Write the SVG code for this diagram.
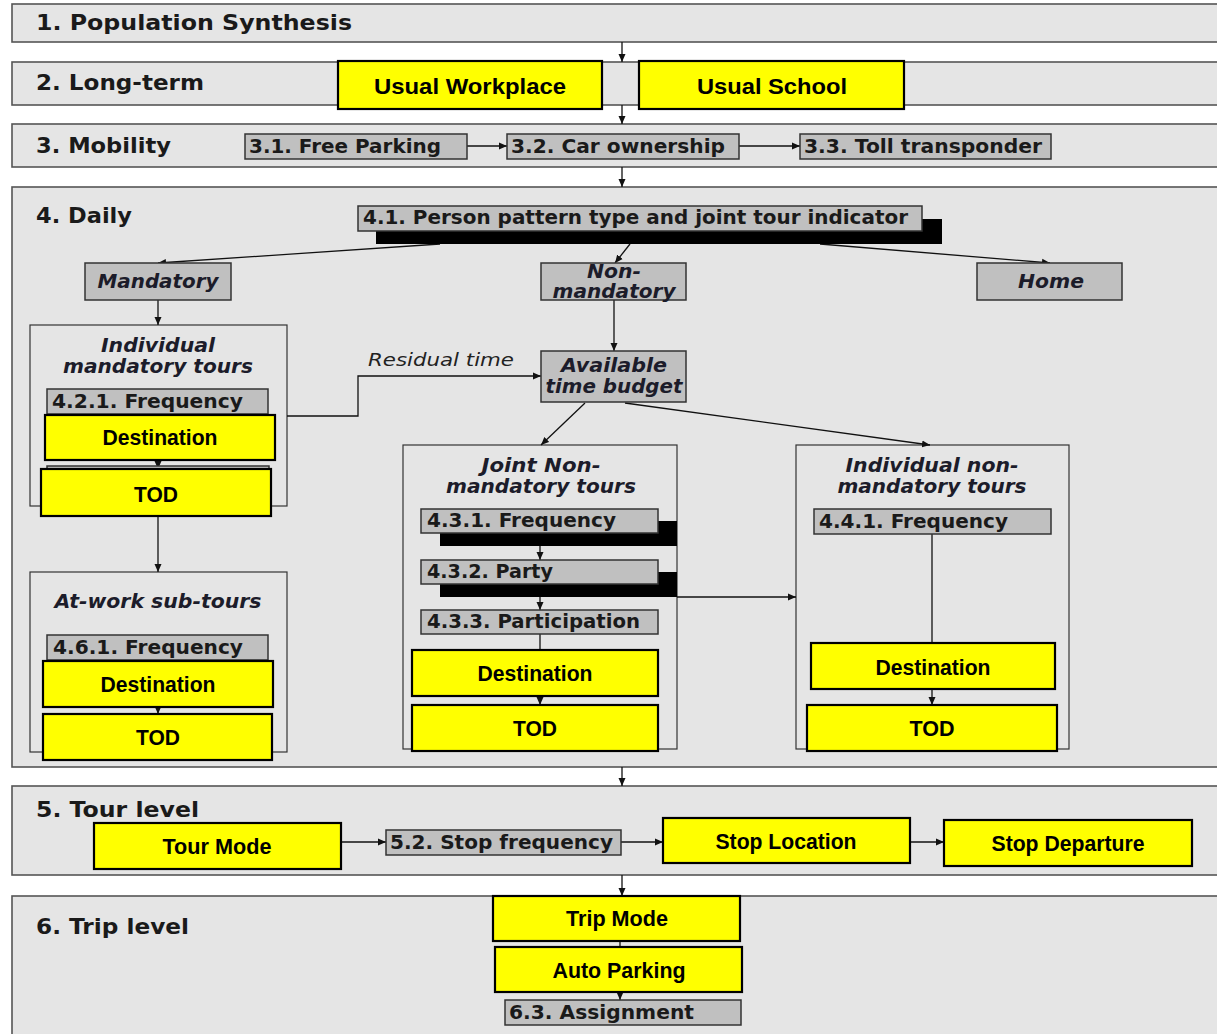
<svg xmlns="http://www.w3.org/2000/svg" width="1217" height="1034" viewBox="0 0 1217 1034">
<defs>
<marker id="ah" markerWidth="8" markerHeight="8" refX="8" refY="4" orient="auto" markerUnits="userSpaceOnUse">
<path d="M0,0.5 L8,4 L0,7.5 z" fill="#111"/>
</marker>
</defs>
<style>
.lane{fill:#e5e5e5;stroke:#555;stroke-width:1.6}
.cont{fill:#e5e5e5;stroke:#333;stroke-width:1.2}
.gray{fill:#c0c0c0;stroke:#333;stroke-width:1.5}
.blk{fill:#000}
.yel{fill:#ffff00;stroke:#000;stroke-width:2.2}
.lt{font-family:"DejaVu Sans",sans-serif;font-weight:bold;font-size:21px;fill:#1a1a1a}
.gt{font-family:"DejaVu Sans",sans-serif;font-weight:bold;font-size:19px;fill:#1a1a1a}
.it{font-family:"DejaVu Sans",sans-serif;font-weight:bold;font-style:italic;font-size:19px;fill:#1c1c2a;text-anchor:middle}
.rt{font-family:"DejaVu Sans",sans-serif;font-style:italic;font-size:18px;fill:#222}
.yt{font-family:"Liberation Sans",Arial,sans-serif;font-weight:bold;font-size:22px;fill:#000;text-anchor:middle}
.c{fill:none;stroke:#111;stroke-width:1.3}
</style>

<g id="lanes">
<g id="lane1"><rect class="lane" x="12" y="4" width="1215" height="38"/><text class="lt" x="36" y="30" textLength="316" lengthAdjust="spacingAndGlyphs">1. Population Synthesis</text></g>
<g id="lane2"><rect class="lane" x="12" y="62" width="1215" height="43"/><text class="lt" x="36" y="90" textLength="168" lengthAdjust="spacingAndGlyphs">2. Long-term</text></g>
<g id="lane3"><rect class="lane" x="12" y="124" width="1215" height="43"/><text class="lt" x="36" y="153" textLength="135" lengthAdjust="spacingAndGlyphs">3. Mobility</text></g>
<g id="lane4"><rect class="lane" x="12" y="187" width="1215" height="580"/><text class="lt" x="36" y="223" textLength="96" lengthAdjust="spacingAndGlyphs">4. Daily</text></g>
<g id="lane5"><rect class="lane" x="12" y="786" width="1215" height="89"/><text class="lt" x="36" y="817" textLength="163" lengthAdjust="spacingAndGlyphs">5. Tour level</text></g>
<g id="lane6"><rect class="lane" x="12" y="896" width="1215" height="145"/><text class="lt" x="36" y="934" textLength="153" lengthAdjust="spacingAndGlyphs">6. Trip level</text></g>
</g>

<g id="containers">
<g id="indiv-mand-tours"><rect class="cont" x="30" y="325" width="257" height="181"/>
<text class="it" x="158" y="352" textLength="114" lengthAdjust="spacingAndGlyphs">Individual</text>
<text class="it" x="158" y="373" textLength="190" lengthAdjust="spacingAndGlyphs">mandatory tours</text></g>
<g id="at-work"><rect class="cont" x="30" y="572" width="257" height="180"/>
<text class="it" x="158" y="608" textLength="207" lengthAdjust="spacingAndGlyphs">At-work sub-tours</text></g>
<g id="joint-nonmand"><rect class="cont" x="403" y="445" width="274" height="304"/>
<text class="it" x="541" y="472" textLength="119" lengthAdjust="spacingAndGlyphs">Joint Non-</text>
<text class="it" x="541" y="493" textLength="190" lengthAdjust="spacingAndGlyphs">mandatory tours</text></g>
<g id="indiv-nonmand"><rect class="cont" x="796" y="445" width="273" height="304"/>
<text class="it" x="932" y="472" textLength="173" lengthAdjust="spacingAndGlyphs">Individual non-</text>
<text class="it" x="932" y="493" textLength="189" lengthAdjust="spacingAndGlyphs">mandatory tours</text></g>
</g>

<g id="connectors">
<line class="c" x1="622" y1="42" x2="622" y2="62" marker-end="url(#ah)"/>
<line class="c" x1="622" y1="105" x2="622" y2="124" marker-end="url(#ah)"/>
<line class="c" x1="622" y1="167" x2="622" y2="187" marker-end="url(#ah)"/>
<line class="c" x1="622" y1="767" x2="622" y2="786" marker-end="url(#ah)"/>
<line class="c" x1="622" y1="875" x2="622" y2="896" marker-end="url(#ah)"/>
<line class="c" x1="467" y1="146" x2="507" y2="146" marker-end="url(#ah)"/>
<line class="c" x1="739" y1="146" x2="800" y2="146" marker-end="url(#ah)"/>
<line class="c" x1="440" y1="244" x2="158" y2="263" marker-end="url(#ah)"/>
<line class="c" x1="630" y1="244" x2="615" y2="263" marker-end="url(#ah)"/>
<line class="c" x1="820" y1="244" x2="1050" y2="263" marker-end="url(#ah)"/>
<line class="c" x1="158" y1="300" x2="158" y2="325" marker-end="url(#ah)"/>
<line class="c" x1="614" y1="300" x2="614" y2="351" marker-end="url(#ah)"/>
<polyline class="c" points="287,416 358,416 358,376 541,376" marker-end="url(#ah)"/>
<line class="c" x1="585" y1="403" x2="541" y2="445" marker-end="url(#ah)"/>
<line class="c" x1="625" y1="403" x2="930" y2="445" marker-end="url(#ah)"/>
<line class="c" x1="158" y1="460" x2="158" y2="469" marker-end="url(#ah)"/>
<line class="c" x1="158" y1="516" x2="158" y2="572" marker-end="url(#ah)"/>
<line class="c" x1="158" y1="707" x2="158" y2="714" marker-end="url(#ah)"/>
<line class="c" x1="540" y1="546" x2="540" y2="560" marker-end="url(#ah)"/>
<line class="c" x1="540" y1="597" x2="540" y2="610" marker-end="url(#ah)"/>
<line class="c" x1="540" y1="634" x2="540" y2="650"/>
<line class="c" x1="540" y1="696" x2="540" y2="705" marker-end="url(#ah)"/>
<line class="c" x1="677" y1="597" x2="796" y2="597" marker-end="url(#ah)"/>
<line class="c" x1="932" y1="534" x2="932" y2="643"/>
<line class="c" x1="932" y1="689" x2="932" y2="705" marker-end="url(#ah)"/>
<line class="c" x1="341" y1="842" x2="386" y2="842" marker-end="url(#ah)"/>
<line class="c" x1="621" y1="842" x2="663" y2="842" marker-end="url(#ah)"/>
<line class="c" x1="910" y1="842" x2="944" y2="842" marker-end="url(#ah)"/>
<line class="c" x1="620" y1="941" x2="620" y2="947"/>
<line class="c" x1="620" y1="992" x2="620" y2="1000" marker-end="url(#ah)"/>
</g>

<g id="usual-workplace"><rect class="yel" x="338" y="61" width="264" height="48"/><text class="yt" x="470" y="94" font-size="24" textLength="192" lengthAdjust="spacingAndGlyphs">Usual Workplace</text></g>
<g id="usual-school"><rect class="yel" x="639" y="61" width="265" height="48"/><text class="yt" x="772" y="94" font-size="24" textLength="150" lengthAdjust="spacingAndGlyphs">Usual School</text></g>

<g id="free-parking"><rect class="gray" x="245" y="134" width="222" height="25"/><text class="gt" x="249" y="153" textLength="192" lengthAdjust="spacingAndGlyphs">3.1. Free Parking</text></g>
<g id="car-ownership"><rect class="gray" x="507" y="134" width="232" height="25"/><text class="gt" x="511" y="153" textLength="214" lengthAdjust="spacingAndGlyphs">3.2. Car ownership</text></g>
<g id="toll-transponder"><rect class="gray" x="800" y="134" width="251" height="25"/><text class="gt" x="804" y="153" textLength="238" lengthAdjust="spacingAndGlyphs">3.3. Toll transponder</text></g>

<g id="person-pattern"><rect class="blk" x="376" y="219" width="566" height="25"/><rect class="gray" x="358" y="206" width="564" height="25"/><text class="gt" x="363" y="224" textLength="545" lengthAdjust="spacingAndGlyphs">4.1. Person pattern type and joint tour indicator</text></g>
<g id="mandatory"><rect class="gray" x="85" y="263" width="146" height="37"/><text class="it" x="158" y="288" textLength="121" lengthAdjust="spacingAndGlyphs">Mandatory</text></g>
<g id="non-mandatory"><rect class="gray" x="541" y="263" width="145" height="37"/><text class="it" x="614" y="278" textLength="54" lengthAdjust="spacingAndGlyphs">Non-</text><text class="it" x="614" y="298" textLength="123" lengthAdjust="spacingAndGlyphs">mandatory</text></g>
<g id="home"><rect class="gray" x="977" y="263" width="145" height="37"/><text class="it" x="1051" y="288" textLength="66" lengthAdjust="spacingAndGlyphs">Home</text></g>
<g id="residual-time-label"><text class="rt" x="368" y="366" textLength="146" lengthAdjust="spacingAndGlyphs">Residual time</text></g>
<g id="available-time"><rect class="gray" x="541" y="351" width="145" height="51"/><text class="it" x="614" y="372" textLength="106" lengthAdjust="spacingAndGlyphs">Available</text><text class="it" x="614" y="393" textLength="137" lengthAdjust="spacingAndGlyphs">time budget</text></g>

<g id="freq-421"><rect class="gray" x="47" y="389" width="221" height="25"/><text class="gt" x="52" y="408" textLength="191" lengthAdjust="spacingAndGlyphs">4.2.1. Frequency</text></g>
<g id="dest-mand"><rect class="yel" x="45" y="415" width="230" height="45"/><text class="yt" x="160" y="445" textLength="115" lengthAdjust="spacingAndGlyphs">Destination</text></g>
<g id="tod-mand"><rect class="gray" x="47" y="466" width="222" height="20"/><rect class="yel" x="41" y="469" width="230" height="47"/><text class="yt" x="156" y="502" textLength="44" lengthAdjust="spacingAndGlyphs">TOD</text></g>

<g id="freq-461"><rect class="gray" x="47" y="635" width="221" height="25"/><text class="gt" x="53" y="654" textLength="190" lengthAdjust="spacingAndGlyphs">4.6.1. Frequency</text></g>
<g id="dest-atwork"><rect class="yel" x="43" y="661" width="230" height="46"/><text class="yt" x="158" y="692" textLength="115" lengthAdjust="spacingAndGlyphs">Destination</text></g>
<g id="tod-atwork"><rect class="yel" x="43" y="714" width="229" height="46"/><text class="yt" x="158" y="745" textLength="44" lengthAdjust="spacingAndGlyphs">TOD</text></g>

<g id="freq-431"><rect class="blk" x="440" y="521" width="237" height="25"/><rect class="gray" x="421" y="509" width="237" height="24"/><text class="gt" x="427" y="527" textLength="189" lengthAdjust="spacingAndGlyphs">4.3.1. Frequency</text></g>
<g id="party-432"><rect class="blk" x="440" y="572" width="237" height="25"/><rect class="gray" x="421" y="560" width="237" height="24"/><text class="gt" x="427" y="578" textLength="126" lengthAdjust="spacingAndGlyphs">4.3.2. Party</text></g>
<g id="participation-433"><rect class="gray" x="421" y="610" width="237" height="24"/><text class="gt" x="427" y="628" textLength="213" lengthAdjust="spacingAndGlyphs">4.3.3. Participation</text></g>
<g id="dest-joint"><rect class="yel" x="412" y="650" width="246" height="46"/><text class="yt" x="535" y="681" textLength="115" lengthAdjust="spacingAndGlyphs">Destination</text></g>
<g id="tod-joint"><rect class="yel" x="412" y="705" width="246" height="46"/><text class="yt" x="535" y="736" textLength="44" lengthAdjust="spacingAndGlyphs">TOD</text></g>

<g id="freq-441"><rect class="gray" x="814" y="509" width="237" height="25"/><text class="gt" x="819" y="528" textLength="189" lengthAdjust="spacingAndGlyphs">4.4.1. Frequency</text></g>
<g id="dest-indiv"><rect class="yel" x="811" y="643" width="244" height="46"/><text class="yt" x="933" y="675" textLength="115" lengthAdjust="spacingAndGlyphs">Destination</text></g>
<g id="tod-indiv"><rect class="yel" x="807" y="705" width="250" height="46"/><text class="yt" x="932" y="736" textLength="45" lengthAdjust="spacingAndGlyphs">TOD</text></g>

<g id="tour-mode"><rect class="yel" x="94" y="823" width="247" height="46"/><text class="yt" x="217" y="854" textLength="109" lengthAdjust="spacingAndGlyphs">Tour Mode</text></g>
<g id="stop-frequency"><rect class="gray" x="386" y="830" width="235" height="25"/><text class="gt" x="390" y="849" textLength="223" lengthAdjust="spacingAndGlyphs">5.2. Stop frequency</text></g>
<g id="stop-location"><rect class="yel" x="663" y="818" width="247" height="45"/><text class="yt" x="786" y="849" textLength="141" lengthAdjust="spacingAndGlyphs">Stop Location</text></g>
<g id="stop-departure"><rect class="yel" x="944" y="820" width="248" height="46"/><text class="yt" x="1068" y="851" textLength="153" lengthAdjust="spacingAndGlyphs">Stop Departure</text></g>

<g id="trip-mode"><rect class="yel" x="493" y="896" width="247" height="45"/><text class="yt" x="617" y="926" textLength="102" lengthAdjust="spacingAndGlyphs">Trip Mode</text></g>
<g id="auto-parking"><rect class="yel" x="495" y="947" width="247" height="45"/><text class="yt" x="619" y="978" textLength="133" lengthAdjust="spacingAndGlyphs">Auto Parking</text></g>
<g id="assignment"><rect class="gray" x="505" y="1000" width="236" height="25"/><text class="gt" x="509" y="1019" textLength="185" lengthAdjust="spacingAndGlyphs">6.3. Assignment</text></g>
</svg>
